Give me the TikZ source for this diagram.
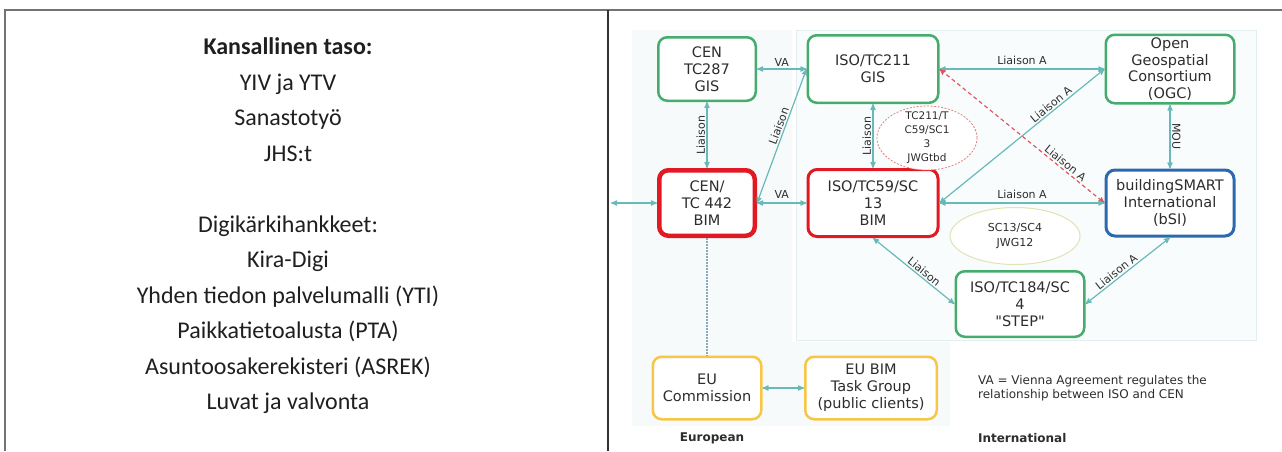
\documentclass[tikz,border=0pt]{standalone}
\usepackage{fontspec}
\setmainfont{Carlito}
\newfontfamily\diagfont{DejaVu Sans}
\usepackage{tikz}
\usetikzlibrary{arrows,positioning,shapes}

\definecolor{linkc}{RGB}{105,185,185}
\definecolor{gisgreen}{RGB}{70,172,110}
\definecolor{bimred}{RGB}{225,25,35}
\definecolor{bsiblue}{RGB}{45,105,175}
\definecolor{euyellow}{RGB}{248,198,70}
\definecolor{dashred}{RGB}{228,85,95}
\definecolor{jwgred}{RGB}{228,130,130}
\definecolor{jwggreen}{RGB}{222,228,178}
\definecolor{dotblue}{RGB}{140,170,190}
\definecolor{txt}{RGB}{45,45,45}
\definecolor{eurobg}{RGB}{246,250,251}
\definecolor{intlbg}{RGB}{249,252,252}
\definecolor{panelline}{RGB}{226,238,240}

\begin{document}
\begin{tikzpicture}[x=1pt,y=-1pt,<->,>=stealth',node distance=166pt,
			line width=1.2pt]
			\tikzstyle{box}=[draw,rounded corners=9pt,fill=white,text=txt,align=center,inner sep=1pt,
				line width=2.5pt,font=\diagfont\fontsize{14.5}{16.8}\selectfont]
			\tikzstyle{gisbox}=[box,draw=gisgreen]
			\tikzstyle{bimbox}=[box,draw=bimred,line width=3pt]
			\tikzstyle{bsibox}=[box,draw=bsiblue,line width=3pt]
			\tikzstyle{eubox}=[box,draw=euyellow]
			\tikzstyle{lab}=[font=\diagfont\fontsize{11}{13}\selectfont,text=txt,inner sep=1.5pt]
			\tikzstyle{jwg}=[ellipse,fill=white,inner sep=0pt]
			\tikzstyle{every edge}=[draw=linkc]
			
			\useasboundingbox (0,0) rectangle (1282,451);
			
			% panels
			\fill[eurobg] (632,30) -- (792,30) -- (792,342) -- (950,342) -- (950,426) -- (632,426) -- cycle;
			\draw[-,panelline,line width=0.8pt,fill=intlbg] (796,30) rectangle (1256,340);
			\draw[-,black!55,line width=1.5pt] (5,451) -- (5,10) -- (1282,10);
			\draw[-,black!80,line width=2pt] (608,10) -- (608,451);
			
			% national level
			\node[align=center,font=\fontsize{24}{35.5}\selectfont,text=black!88] (natl) at (288,226)
				{\textbf{Kansallinen taso:}\\YIV ja YTV\\Sanastotyö\\JHS:t\\[35.5pt]Digikärkihankkeet:\\Kira-Digi\\
				Yhden tiedon palvelumalli (YTI)\\Paikkatietoalusta (PTA)\\Asuntoosakerekisteri (ASREK)\\Luvat ja valvonta};
			
			\node[bimbox, line width=4.5pt, minimum width=95.5pt, minimum height=65.5pt] (cen442) at (707,203) {CEN/\\TC 442\\BIM};
			
			\node[bimbox, minimum width=130pt, minimum height=67pt] (iso59) [right of = cen442] {ISO/TC59/SC\\13\\BIM};
			
			\node[bsibox, minimum width=128pt, minimum height=66pt] (bsi) [right of = iso59, xshift=131pt] {buildingSMART\\International\\(bSI)};
			
			\node[gisbox, minimum width=97.5pt, minimum height=63.5pt] (cen287) [above of = cen442, yshift=-32pt] {CEN\\TC287\\GIS};
			
			\node[gisbox, minimum width=130.5pt, minimum height=67.5pt] (iso211) [above of = iso59, yshift=-32pt] {ISO/TC211\\GIS};
			
			\node[gisbox, minimum width=128.5pt, minimum height=68.5pt] (ogc) [above of = bsi, yshift=-32pt] {Open\\Geospatial\\Consortium\\(OGC)};
			
			\node[gisbox, minimum width=128.5pt, minimum height=65.5pt] (step) [below of = iso59, xshift=147pt, yshift=65pt] {ISO/TC184/SC\\4\\"STEP"};
			
			\node[eubox, minimum width=108.5pt, minimum height=62.5pt] (euc) [below of = cen442, yshift=-19pt] {EU\\Commission};
			
			\node[eubox, minimum width=131.5pt, minimum height=62.5pt] (eutg) [right of = euc, xshift=-2pt] {EU BIM\\Task Group\\(public clients)};
			
			\node[jwg, draw=jwgred, dash pattern=on 2pt off 1.5pt, line width=0.8pt, minimum width=100pt, minimum height=64pt] (jwg1) at (927,138) {};
			\node[lab, align=center, font=\diagfont\fontsize{10.5}{14}\selectfont] (jwg1t) at (jwg1) {TC211/T\\C59/SC1\\3\\JWGtbd};
			
			\node[jwg, draw=jwggreen, line width=1pt, minimum width=130pt, minimum height=57pt] (jwg2) at (1015,236) {};
			\node[lab, align=center, font=\diagfont\fontsize{11}{15}\selectfont] (jwg2t) at (jwg2) {SC13/SC4\\JWG12};
			
			\node[lab, align=left, anchor=west, font=\diagfont\fontsize{12}{14}\selectfont] (note) at (976,388)
				{VA = Vienna Agreement regulates the\\relationship between ISO and CEN};
			\node[lab, font=\diagfont\bfseries\fontsize{12}{14}\selectfont] (eur) at (712,438) {European};
			\node[lab, anchor=west, font=\diagfont\bfseries\fontsize{12}{14}\selectfont] (intl) at (976,438) {International};
			
			\coordinate (inlet) at (611,203);
			
			\path
			
			(cen287.east) edge node[lab,above] {VA} (iso211.west)
			
			(cen442) edge node[lab,rotate=90,anchor=south] {Liaison} (cen287)
			
			(cen442.east) edge node[lab,sloped,above,pos=0.56] {Liaison} (iso211.west)
			
			(cen442.east) edge node[lab,above,yshift=2pt] {VA} (iso59.west)
			
			(inlet) edge (cen442.west)
			
			(cen442) edge[-,draw=dotblue,dash pattern=on 1.5pt off 1.5pt,line width=1.5pt] (euc)
			
			(euc) edge (eutg)
			
			(iso59) edge node[lab,rotate=90,anchor=south] {Liaison} (iso211)
			
			(iso211) edge node[lab,above,yshift=2pt] {Liaison A} (ogc)
			
			(iso59.east) edge node[lab,sloped,above,pos=0.7] {Liaison A} (ogc.west)
			
			(iso211.east) edge[draw=dashred,dash pattern=on 4pt off 3pt] node[lab,sloped,above,pos=0.74] {Liaison A} (bsi.west)
			
			(iso59) edge node[lab,above,yshift=2pt] {Liaison A} (bsi)
			
			(ogc) edge node[lab,rotate=-90,anchor=south] {MOU} (bsi)
			
			(iso59.south) edge node[lab,sloped,above,pos=0.58] {Liaison} (step.west)
			
			(step.east) edge node[lab,sloped,above,pos=0.41] {Liaison A} (bsi.south);
\end{tikzpicture}
\end{document}
